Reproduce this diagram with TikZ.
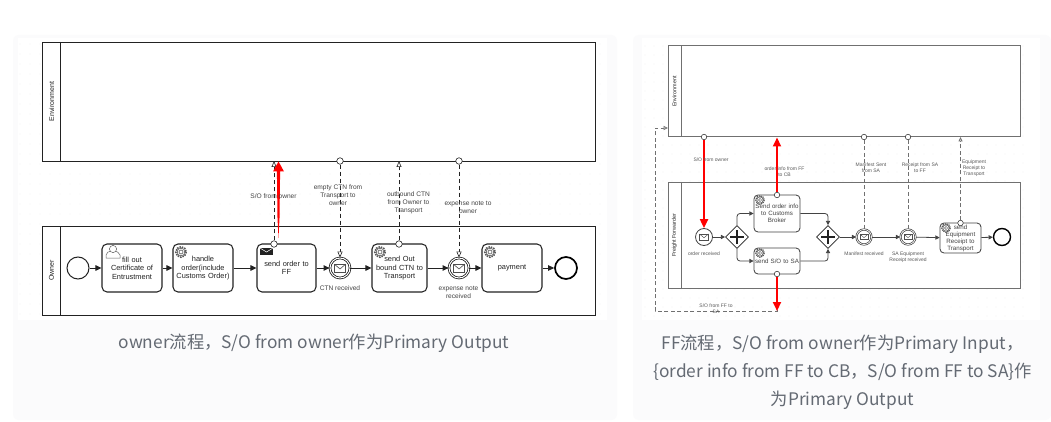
\documentclass[tikz,border=0pt]{standalone}
\usepackage{fontspec}
\setmainfont{Liberation Sans}
\newfontfamily\cjkcap{Noto Sans CJK SC}
\usetikzlibrary{arrows.meta,shapes.geometric,calc}
\definecolor{ink}{HTML}{222222}
\definecolor{capgray}{HTML}{646A73}
\definecolor{inkb}{HTML}{707070}
\definecolor{panelbg}{HTML}{FBFBFC}
\tikzset{
  pool/.style={draw=ink,line width=0.9pt,fill=white,rectangle,inner sep=0pt},
  poolb/.style={draw=inkb,line width=1pt,fill=white,rectangle,inner sep=0pt},
  task/.style={draw=ink,line width=1.05pt,rounded corners=5pt,fill=white,rectangle,inner sep=0pt,align=center,font=\fontsize{7.4}{8.6}\selectfont,text=ink},
  taskb/.style={draw=ink!85,line width=0.85pt,rounded corners=4pt,fill=white,rectangle,inner sep=0pt,align=center,font=\fontsize{6.2}{7}\selectfont,text=ink!85},
  startev/.style={circle,draw=ink,line width=1pt,fill=white,inner sep=0pt,minimum size=22pt},
  endev/.style={circle,draw=black,line width=1.7pt,fill=white,inner sep=0pt,minimum size=22pt},
  catchev/.style={circle,draw=ink,line width=0.8pt,double=white,double distance=1pt,fill=white,inner sep=0pt,minimum size=20pt},
  catchevb/.style={circle,draw=ink!85,line width=0.7pt,double=white,double distance=0.7pt,fill=white,inner sep=0pt,minimum size=15pt},
  gate/.style={diamond,aspect=1,draw=ink,line width=0.8pt,fill=white,inner sep=0pt,minimum size=23pt},
  seqf/.style={draw=ink,line width=0.9pt,-{Triangle[length=6pt,width=5.5pt]}},
  seqfb/.style={draw=ink!85,line width=0.8pt,rounded corners=3pt,-{Triangle[length=4.2pt,width=4.2pt]}},
  msgf/.style={draw=ink,line width=0.6pt,dash pattern=on 4.5pt off 2.5pt,-{Triangle[open,fill=white,length=6pt,width=5pt]}},
  msgb/.style={draw=inkb,line width=0.8pt,dash pattern=on 4pt off 2.5pt,-{Triangle[open,fill=white,length=4.5pt,width=4pt]}},
  msgnb/.style={draw=inkb,line width=0.8pt,dash pattern=on 4pt off 2.5pt},
  port/.style={circle,draw=ink,line width=0.6pt,fill=white,inner sep=0pt,minimum size=6.5pt},
  portb/.style={circle,draw=ink,line width=0.5pt,fill=white,inner sep=0pt,minimum size=5.5pt},
  redf/.style={draw=red,line width=2pt,-{Triangle[length=9pt,width=8pt]}},
  lab/.style={font=\fontsize{6.6}{8}\selectfont,text=ink!85,align=center,inner sep=0pt},
  labb/.style={font=\fontsize{5}{6}\selectfont,text=ink!75,align=center,inner sep=0pt},
  poollab/.style={rotate=90,font=\fontsize{7}{8}\selectfont,text=ink,inner sep=0pt},
  poollabb/.style={rotate=90,font=\fontsize{5.4}{6}\selectfont,text=ink,inner sep=0pt},
  captext/.style={font=\cjkcap\fontsize{17.3}{27.8}\selectfont,text=capgray,align=center,inner sep=0pt},
}
\newcommand{\gearicon}[3]{% x y scale
  \draw[ink!75,line width=#3*1.3pt,dash pattern=on #3*1.2pt off #3*0.8pt] (#1,#2) circle[radius=#3*4.2];
  \draw[ink!75,line width=#3*0.5pt,fill=white] (#1,#2) circle[radius=#3*3.1];
  \draw[ink!75,line width=#3*0.5pt] (#1,#2) circle[radius=#3*1.6];
}
\newcommand{\envicon}[3]{% x y scale
  \draw[ink!80,line width=#3*0.5pt,fill=white] (#1-#3*4.7,#2-#3*3.2) rectangle (#1+#3*4.7,#2+#3*3.2);
  \draw[ink!80,line width=#3*0.5pt] (#1-#3*4.7,#2-#3*3.2) -- (#1,#2+#3*0.8) -- (#1+#3*4.7,#2-#3*3.2);
}
\begin{document}
\begin{tikzpicture}[x=1pt,y=-1pt]
\useasboundingbox (0,0) rectangle (1051,422);
\fill[white] (0,0) rectangle (1051,422);
\fill[panelbg,rounded corners=6pt] (13,35) rectangle (617,420);
\fill[panelbg,rounded corners=6pt] (633,35) rectangle (1051,420);
\fill[white] (18,38) rectangle (607,320);
\fill[white] (642,38) rectangle (1040,320);
\foreach \i in {0,...,58} \foreach \j in {0,...,27} {
  \fill[black!14] (20+10*\i,44+10*\j) circle[radius=0.45];
}
\foreach \i in {0,...,42} \foreach \j in {0,...,30} {
  \fill[black!14] (645+9*\i,46+9*\j) circle[radius=0.4];
}
% ---------- left: pools
\node[pool,minimum width=553pt,minimum height=119pt] (envA) at (318.5,101.5) {};
\draw[ink,line width=0.9pt] (60.5,42) -- (60.5,161);
\node[poollab] (envAl) at (51.5,101.5) {Environment};
\node[pool,minimum width=553pt,minimum height=89pt] (ownA) at (318.5,270.5) {};
\draw[ink,line width=0.9pt] (60.5,226) -- (60.5,315);
\node[poollab] (ownAl) at (51.5,270.5) {Owner};
% left: flow nodes
\node[startev] (s1) at (78,268) {};
\node[task,minimum width=60pt,minimum height=48pt,text width=56pt] (t1) at (132,268) {\rule{0pt}{6pt}fill out\\Certificate of\\Entrustment};
\node[task,minimum width=60pt,minimum height=48pt,text width=56pt] (t2) at (203,268) {\rule{0pt}{6pt}handle\\order(include\\Customs Order)};
\node[task,minimum width=59pt,minimum height=48pt,text width=55pt] (t3) at (286.5,268) {send order to\\FF};
\node[catchev] (e1) at (340,268) {};
\node[task,minimum width=55pt,minimum height=48pt,text width=53pt] (t4) at (399.5,268) {\rule{0pt}{6pt}send Out\\bound CTN to\\Transport};
\node[catchev] (e2) at (459,268) {};
\node[task,minimum width=60pt,minimum height=48pt,text width=56pt] (t5) at (512,268) {payment};
\node[endev] (x1) at (566,268) {};
\foreach \p/\q in {s1/t1,t1/t2,t2/t3,t3/e1,e1/t4,t4/e2,e2/t5,t5/x1} \draw[seqf] (\p) -- (\q);
\envicon{340}{268}{1.2}
\envicon{459}{268}{1.2}
\gearicon{181}{252}{1.25}
\gearicon{380}{252}{1.25}
\gearicon{490}{252}{1.25}
% user icon
\draw[ink!70,line width=0.5pt,fill=white] (106,258) -- (106,255) .. controls (106,252) and (109,252) .. (111,251) -- (115,251) .. controls (117,252) and (119,252) .. (120,255) -- (120,258) -- cycle;
\draw[ink!70,line width=0.5pt,fill=white] (113,249) circle[radius=3.6];
% send envelope
\fill[ink] (260,247.5) rectangle (273,255);
\draw[white,line width=0.5pt] (260,248) -- (266.5,252) -- (273,248);
% left: message flows
\node[port] (p1) at (274,244) {};
\coordinate (q1) at (274,161);
\draw[msgf] (p1) -- (q1);
\coordinate (r1a) at (278.5,238);
\coordinate (r1b) at (278.5,161.5);
\fill[red] (r1a) -- ($(r1a)+(1,-20)$) -- ($(r1b)+(1.6,10)$) -- ($(r1b)+(5.5,10)$) -- (r1b) -- ($(r1b)+(-5.5,10)$) -- ($(r1b)+(-1.6,10)$) -- ($(r1a)+(-1,-20)$) -- cycle;
\node[port] (p2) at (340,161) {};
\draw[msgf] (p2) -- (e1);
\node[port] (p3) at (399,244) {};
\coordinate (q3) at (399,161);
\draw[msgf] (p3) -- (q3);
\node[port] (p4) at (459,161) {};
\draw[msgf] (p4) -- (e2);
% left labels
\node[lab] (l1) at (273.5,196) {S/O from owner};
\node[lab] (l2) at (338,195) {empty CTN from\\Transport to\\owner};
\node[lab] (l3) at (408.5,203) {outbound CTN\\from Owner to\\Transport};
\node[lab] (l4) at (468,207) {expense note to\\owner};
\node[lab] (l5) at (340,288.5) {CTN received};
\node[lab] (l6) at (458.5,292) {expense note\\received};
% ---------- right: pools
\node[poolb,minimum width=352pt,minimum height=91pt] (envB) at (844,91.5) {};
\draw[inkb,line width=1pt] (681,46) -- (681,137);
\node[poollabb] (envBl) at (674.5,91.5) {Environment};
\node[poolb,minimum width=352pt,minimum height=105pt] (ffB) at (844,235.5) {};
\draw[inkb,line width=1pt] (681,183) -- (681,288);
\node[poollabb] (ffBl) at (674.5,235.5) {Freight Forwarder};
\node[circle,draw=ink!85,line width=0.8pt,fill=white,inner sep=0pt,minimum size=17pt] (e3) at (704,237) {};
\node[gate] (g1) at (737,237) {};
\node[taskb,minimum width=46pt,minimum height=37pt,text width=44pt] (t6) at (777,213.5) {Send order info\\to Customs\\Broker};
\node[taskb,minimum width=46pt,minimum height=26pt,text width=44pt] (t7) at (777,261) {send S/O to SA};
\node[gate] (g2) at (828,237) {};
\node[catchevb] (e4) at (864,237) {};
\node[catchevb] (e5) at (908,237) {};
\node[taskb,minimum width=41pt,minimum height=30pt,text width=40pt] (t8) at (960.5,238) {send\\Equipment\\Receipt to\\Transport};
\node[circle,draw=black,line width=1.4pt,fill=white,inner sep=0pt,minimum size=17pt] (x2) at (1002,237) {};
\draw[seqfb] (e3) -- (g1);
\draw[seqfb] (g1) |- (t6);
\draw[seqfb] (g1) |- (t7);
\draw[seqfb] (t6) -| (g2);
\draw[seqfb] (t7) -| (g2);
\draw[seqfb] (g2) -- (e4);
\draw[seqfb] (e4) -- (e5);
\draw[seqfb] (e5) -- (t8);
\draw[seqfb] (t8) -- (x2);
\foreach \g in {g1,g2} {
  \draw[ink,line width=2.8pt] ($(\g)+(-7,0)$) -- ($(\g)+(7,0)$);
  \draw[ink,line width=2.8pt] ($(\g)+(0,-7)$) -- ($(\g)+(0,7)$);
}
\envicon{704}{237}{0.95}
\envicon{864}{237}{0.8}
\envicon{908}{237}{0.8}
\gearicon{760}{200}{1}
\gearicon{760}{253}{1}
\gearicon{946}{228}{1}
% right: message flows
\node[portb] (p5) at (704,137) {};
\draw[redf] (p5) -- (e3);
\node[portb] (p6) at (777,195) {};
\coordinate (q6) at (777,137.5);
\draw[redf] (p6) -- (q6);
\node[portb] (p7) at (777,274) {};
\coordinate (c7) at (777,311);
\coordinate (d7) at (655,311);
\coordinate (f7) at (655,128);
\coordinate (h7) at (668,128);
\draw[msgb] (p7) -- (c7) -- (d7) -- (f7) -- (h7);
\draw[redf] (p7) -- (c7);
\node[portb] (p8) at (864,137) {};
\draw[msgnb] (p8) -- (e4);
\node[portb] (p9) at (908,137) {};
\draw[msgnb] (p9) -- (e5);
\node[portb] (p10) at (960.5,223) {};
\coordinate (q10) at (960.5,137);
\draw[msgb] (p10) -- (q10);
% right labels
\node[labb] (l7) at (711,159.5) {S/O from owner};
\node[labb] (l8) at (784.5,172) {order info from FF\\to CB};
\node[labb] (l9) at (704,254) {order received};
\node[labb] (l10) at (716,309) {S/O from FF to\\SA};
\node[labb] (l11) at (871,168) {Manifest Sent\\from SA};
\node[labb] (l12) at (920,168) {Receipt from SA\\to FF};
\node[labb] (l13) at (974,168) {Equipment\\Receipt to\\Transport};
\node[labb] (l14) at (864,254) {Manifest received};
\node[labb] (l15) at (908,257) {SA Equipment\\Receipt received};
% captions
\node[captext] (c1) at (314,343) {owner流程，S/O from owner作为Primary Output};
\node[captext] (c2) at (842.5,372.5) {FF流程，S/O from owner作为Primary Input，\\\{order info from FF to CB，S/O from FF to SA\}作\\为Primary Output};
\end{tikzpicture}
\end{document}
